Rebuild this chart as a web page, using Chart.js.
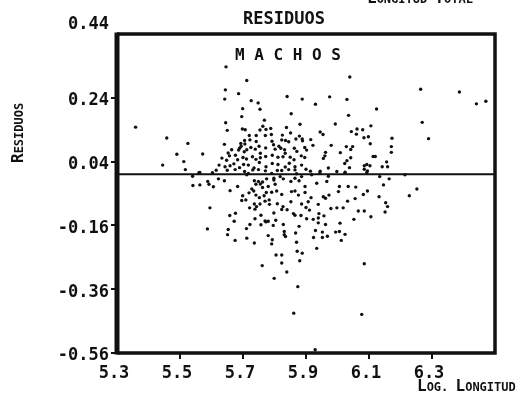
<!DOCTYPE html>
<html>
<head>
<meta charset="utf-8">
<script src="https://cdn.jsdelivr.net/npm/chart.js@4"></script>
<style>
  body { margin: 0; background: #fff; }
  canvas { display: block; }
</style>
</head>
<body>
<canvas id="residuos" width="529" height="412"></canvas>
<script>
// tick labels
const xTicks = [5.3, 5.5, 5.7, 5.9, 6.1, 6.3];
const yTicks = [-0.56, -0.36, -0.16, 0.04, 0.24, 0.44];

// residuos machos [log longitud, residuo]
const zonaIzq = [[5.359,0.148],[5.458,0.114],[5.525,0.097],[5.490,0.063],[5.445,0.029],[5.512,0.040],[5.517,0.015],
  [5.541,-0.035],[5.540,-0.006]];

const centroArriba = [[5.646,0.337],[5.712,0.294],[5.644,0.265],[5.686,0.253],[5.642,0.236],[5.726,0.231],[5.748,0.224],[5.840,0.244],[5.888,0.236],
  [5.699,0.206],[5.754,0.204],[5.853,0.190],[5.696,0.181],[5.768,0.170],[5.645,0.162],[5.650,0.138],[5.881,0.157],[5.763,0.151],[5.698,0.142],[5.707,0.140],[5.773,0.141],[5.788,0.144],[5.754,0.139],[5.838,0.147],[5.851,0.130],
  [5.641,0.094],[5.693,0.097],[5.720,0.122],[5.742,0.122],[5.771,0.122],[5.790,0.125],[5.825,0.123],[5.879,0.120],[5.888,0.111],
  [5.694,0.088],[5.689,0.082],[5.705,0.106],[5.706,0.095],[5.722,0.108],[5.725,0.084],[5.742,0.103],[5.751,0.088],[5.772,0.083],[5.792,0.104],[5.797,0.093],[5.814,0.088],[5.823,0.108],[5.835,0.106],[5.845,0.102],[5.863,0.082],[5.868,0.111],[5.889,0.105],
  [5.572,0.064],[5.664,0.077],[5.686,0.076],[5.653,0.067],[5.676,0.060],[5.704,0.071],[5.712,0.077],[5.739,0.079],[5.755,0.066],[5.802,0.079],[5.820,0.082],[5.832,0.077],[5.834,0.066],[5.871,0.072],[5.896,0.084],[5.902,0.076],
  [5.633,0.051],[5.648,0.044],[5.657,0.058],[5.683,0.046],[5.700,0.053],[5.711,0.048],[5.730,0.055],[5.741,0.047],[5.755,0.052],[5.772,0.056],[5.793,0.060],[5.811,0.054],[5.827,0.055],[5.850,0.054],[5.862,0.046],[5.885,0.058],[5.896,0.053],
  [5.624,0.029],[5.643,0.024],[5.659,0.027],[5.671,0.033],[5.689,0.021],[5.702,0.031],[5.717,0.029],[5.735,0.020],[5.752,0.037],[5.773,0.024],[5.793,0.034],[5.811,0.031],[5.834,0.023],[5.847,0.035],[5.865,0.024],[5.886,0.029],
  [5.615,0.013],[5.650,0.013],[5.675,0.015],[5.705,0.009],[5.731,0.014],[5.749,0.015],[5.771,0.011],[5.809,0.012],[5.823,0.012],[5.845,0.015],[5.865,0.014],[5.900,0.016],
  [5.560,0.005],[5.603,0.005],[5.717,0.003],[5.791,0.003],[5.870,0.002]];

const derechaArriba = [[6.039,0.305],[5.975,0.243],[6.030,0.235],[5.930,0.220],[6.124,0.205],[6.035,0.185],[5.993,0.158],[6.106,0.152],[6.044,0.134],[6.062,0.142],
  [6.080,0.140],[6.060,0.126],[5.945,0.133],[5.954,0.125],[6.084,0.115],[6.098,0.118],[6.173,0.113],[5.915,0.109],[5.922,0.091],[5.980,0.091],
  [6.028,0.087],[6.048,0.087],[6.042,0.078],[5.962,0.069],[5.960,0.058],[5.955,0.050],[6.009,0.068],[6.104,0.096],[6.171,0.087],[6.171,0.069],
  [6.113,0.056],[6.120,0.056],[6.042,0.052],[6.030,0.043],[6.156,0.039],[6.159,0.024],[6.142,0.024],[6.093,0.031],[6.085,0.027],[6.103,0.027],
  [6.038,0.021],[6.023,0.034],[5.971,0.020],[6.085,0.016],[6.095,0.011],[5.998,0.009],[5.945,0.010],[5.914,0.010],[6.024,0.007],
  [6.264,0.267],[6.387,0.258],[6.441,0.221],[6.471,0.229],[6.269,0.163],[6.289,0.112]];

const centroAbajo = [[5.563,0.006],[5.622,-0.014],[5.641,-0.020],[5.712,-0.001],[5.736,-0.020],[5.749,-0.022],[5.762,-0.024],[5.775,-0.014],[5.798,-0.012],[5.818,-0.007],[5.828,-0.014],[5.865,-0.012],[5.886,-0.007],
  [5.563,-0.033],[5.588,-0.022],[5.592,-0.031],[5.606,-0.039],[5.659,-0.051],[5.683,-0.038],[5.728,-0.046],[5.741,-0.031],[5.755,-0.030],[5.762,-0.041],[5.780,-0.038],[5.802,-0.031],[5.798,-0.018],[5.852,-0.022],[5.878,-0.020],[5.897,-0.038],[5.865,-0.052],
  [5.699,-0.067],[5.709,-0.080],[5.719,-0.058],[5.734,-0.052],[5.741,-0.065],[5.752,-0.073],[5.767,-0.067],[5.774,-0.057],[5.791,-0.056],[5.807,-0.052],[5.823,-0.063],[5.783,-0.080],[5.854,-0.054],[5.876,-0.065],[5.897,-0.057],
  [5.696,-0.082],[5.721,-0.105],[5.736,-0.093],[5.743,-0.101],[5.754,-0.093],[5.770,-0.084],[5.784,-0.094],[5.809,-0.092],[5.827,-0.101],[5.852,-0.086],[5.886,-0.093],[5.900,-0.104],[5.907,-0.086],
  [5.595,-0.105],[5.658,-0.129],[5.676,-0.122],[5.672,-0.147],[5.738,-0.109],[5.757,-0.128],[5.770,-0.146],[5.780,-0.147],[5.798,-0.121],[5.796,-0.160],[5.823,-0.110],[5.840,-0.111],[5.860,-0.123],[5.884,-0.129],[5.911,-0.112],[5.902,-0.139],
  [5.722,-0.157],[5.738,-0.139],[5.757,-0.158],[5.773,-0.149],[5.804,-0.144],[5.828,-0.157],[5.878,-0.163],[5.865,-0.128],
  [5.587,-0.171],[5.653,-0.173],[5.651,-0.189],[5.711,-0.170],[5.675,-0.207],[5.712,-0.200],[5.736,-0.215],[5.780,-0.192],[5.793,-0.205],[5.791,-0.218],[5.831,-0.179],[5.831,-0.189],[5.835,-0.195],[5.867,-0.184],
  [5.805,-0.253],[5.823,-0.253],[5.870,-0.213],[5.872,-0.241],[5.888,-0.247],[5.823,-0.278],[5.880,-0.271],[5.761,-0.286],[5.839,-0.306],[5.799,-0.326],
  [5.874,-0.352],[5.861,-0.435],[5.929,-0.550]];

const derechaAbajo = [[5.934,-0.028],[5.966,-0.022],[6.006,-0.038],[6.003,-0.054],[6.034,-0.038],[6.058,-0.040],[6.095,-0.052],[6.082,-0.063],[6.146,-0.033],[6.164,-0.014],
  [6.252,-0.046],[6.228,-0.067],[6.132,-0.070],[6.032,-0.084],[6.056,-0.076],[5.973,-0.065],[5.955,-0.070],[5.962,-0.075],[5.916,-0.073],[5.939,-0.094],
  [5.998,-0.105],[5.979,-0.107],[6.018,-0.105],[6.066,-0.115],[6.085,-0.115],[6.153,-0.089],[6.159,-0.101],[6.151,-0.118],[6.106,-0.133],[6.052,-0.141],
  [5.941,-0.123],[5.939,-0.137],[5.957,-0.130],[5.923,-0.141],[5.939,-0.152],[5.962,-0.157],[6.008,-0.153],[5.930,-0.176],[5.952,-0.181],[5.968,-0.194],
  [5.994,-0.181],[6.006,-0.179],[6.024,-0.188],[5.952,-0.198],[5.924,-0.198],[6.012,-0.207],[5.934,-0.232],[6.085,-0.280],[6.077,-0.439],
  [5.918,-0.001],[5.944,0.004],[5.971,-0.006],[6.024,0.004],[6.093,0.006],[6.134,-0.007],[6.214,-0.001]];

const lineaCero = [[5.3, 0], [6.5, 0]];

const puntos = [...zonaIzq, ...centroArriba, ...derechaArriba, ...centroAbajo, ...derechaAbajo]
  .map(p => ({ x: p[0], y: p[1] }));

const INK = '#111';
const MONO = '"DejaVu Sans Mono", monospace';

// draws words in small caps: first letter big, rest small
function smallCaps(c, words, x, y, big, small) {
  let cx = x;
  words.forEach((w, i) => {
    if (i > 0) {
      c.font = 'bold ' + small + 'px ' + MONO;
      cx += c.measureText(' ').width;
    }
    c.font = 'bold ' + big + 'px ' + MONO;
    c.fillText(w[0], cx, y);
    cx += c.measureText(w[0]).width;
    c.font = 'bold ' + small + 'px ' + MONO;
    c.fillText(w.slice(1), cx, y);
    cx += c.measureText(w.slice(1)).width;
  });
  return cx - x;
}

const marco = {
  id: 'marco',
  afterDraw(chart) {
    const c = chart.ctx;
    const a = chart.chartArea;
    c.save();
    c.strokeStyle = INK;
    c.lineWidth = 3.5;
    c.beginPath();
    c.moveTo(a.left, a.top);
    c.lineTo(a.right, a.top);
    c.lineTo(a.right, a.bottom);
    c.lineTo(a.left, a.bottom);
    c.stroke();
    c.lineWidth = 5;
    c.beginPath();
    c.moveTo(a.left, a.top - 1.5);
    c.lineTo(a.left, a.bottom + 1.5);
    c.stroke();

    c.fillStyle = INK;
    c.textBaseline = 'middle';
    c.textAlign = 'center';
    c.font = 'bold 17px ' + MONO;
    c.fillText('RESIDUOS', 284, 20);
    c.textAlign = 'left';
    c.font = 'bold 16px ' + MONO;
    c.fillText('M A C H O S', 235, 56);

    c.textBaseline = 'alphabetic';
    smallCaps(c, ['LOG.', 'LONGITUD'], 417, 391, 16, 12);
    smallCaps(c, ['LONGITUD', 'TOTAL'], 367, 3, 16, 12);

    c.translate(23, 163);
    c.rotate(-Math.PI / 2);
    smallCaps(c, ['RESIDUOS'], 0, 0, 16, 12);
    c.restore();
  }
};

new Chart(document.getElementById('residuos'), {
  type: 'scatter',
  data: {
    datasets: [{
      data: puntos,
      pointRadius: 1.7,
      pointBackgroundColor: INK,
      pointBorderWidth: 0
    }, {
      type: 'line',
      data: lineaCero.map(p => ({ x: p[0], y: p[1] })),
      borderColor: INK,
      borderWidth: 2,
      pointRadius: 0
    }]
  },
  options: {
    responsive: false,
    animation: false,
    layout: { padding: { left: 0, right: 34, top: 34, bottom: 0 } },
    plugins: { legend: { display: false }, tooltip: { enabled: false } },
    scales: {
      x: {
        type: 'linear',
        min: 5.3,
        max: 6.5,
        afterBuildTicks: s => { s.ticks = xTicks.map(v => ({ value: v })); },
        afterFit: s => { s.height = 59; },
        border: { display: false },
        grid: {
          drawOnChartArea: false,
          tickLength: 6,
          lineWidth: 2,
          color: c => (c.tick && c.tick.value === 5.3) ? 'rgba(0,0,0,0)' : INK
        },
        ticks: {
          color: INK,
          font: { family: MONO, size: 17, weight: 'bold', lineHeight: 1 },
          padding: 6,
          labelOffset: -3,
          maxRotation: 0,
          autoSkip: false,
          callback: v => v.toFixed(1)
        }
      },
      y: {
        type: 'linear',
        min: -0.56,
        max: 0.44,
        afterBuildTicks: s => { s.ticks = yTicks.map(v => ({ value: v })); },
        afterFit: s => { s.width = 117; },
        border: { display: false },
        grid: {
          drawOnChartArea: false,
          tickLength: 6,
          lineWidth: 2,
          color: c => (c.tick && c.tick.value === 0.44) ? 'rgba(0,0,0,0)' : INK
        },
        ticks: {
          color: INK,
          font: { family: MONO, size: 17, weight: 'bold', lineHeight: 1.5 },
          padding: 2,
          labelOffset: 3,
          autoSkip: false,
          callback: v => v === 0.44 ? ['0.44', ''] : v.toFixed(2)
        }
      }
    }
  },
  plugins: [marco]
});
</script>
</body>
</html>
